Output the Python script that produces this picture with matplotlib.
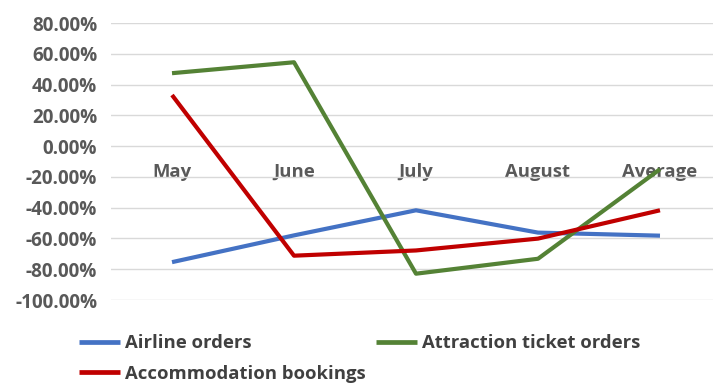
import matplotlib
matplotlib.use("Agg")
import matplotlib.pyplot as plt
from matplotlib.ticker import FuncFormatter, MultipleLocator

categories = ["May", "June", "July", "August", "Average"]
airline_orders = [-75.4, -58.0, -41.7, -56.2, -58.2]
attraction_ticket_orders = [47.4, 54.5, -82.9, -73.2, -15.0]
accommodation_bookings = [33.2, -71.2, -67.8, -60.1, -41.7]

plt.rcParams["font.family"] = ["Open Sans", "DejaVu Sans"]
text_gray = "#595959"

fig = plt.figure(figsize=(7.13, 3.83), dpi=100)
ax = fig.add_axes([0.1557, 0.2167, 0.8555, 0.7232])

x = range(len(categories))
l_air, = ax.plot(x, airline_orders, color="#4472C4", lw=3.0,
                 solid_capstyle="butt", label="Airline orders")
l_att, = ax.plot(x, attraction_ticket_orders, color="#548235", lw=3.0,
                 solid_capstyle="butt", label="Attraction ticket orders")
l_acc, = ax.plot(x, accommodation_bookings, color="#C00000", lw=3.0,
                 solid_capstyle="butt", label="Accommodation bookings")

ax.set_xlim(-0.5, len(categories) - 0.5)
ax.set_ylim(-100, 80)
ax.yaxis.set_major_locator(MultipleLocator(20))
ax.yaxis.set_major_formatter(FuncFormatter(lambda v, p: f"{v:.2f}%"))
ax.grid(axis="y", color="#d9d9d9", lw=1.0)
ax.set_axisbelow("line")

for s in ax.spines.values():
    s.set_visible(False)
ax.spines["bottom"].set_position(("data", 0))

ax.set_xticks(list(x))
ax.set_xticklabels(categories)
ax.tick_params(axis="x", length=0, pad=12, labelsize=13.3, labelcolor=text_gray)
ax.tick_params(axis="y", length=0, pad=10, labelsize=13.6, labelcolor=text_gray)
for lab in ax.get_xticklabels() + ax.get_yticklabels():
    lab.set_fontweight("bold")

leg = fig.legend(handles=[l_air, l_acc, l_att], ncol=2, frameon=False,
                 loc="upper left", bbox_to_anchor=(0.0874, 0.1705),
                 handlelength=2.24, handletextpad=0.27, columnspacing=0.53,
                 labelspacing=0.66,
                 prop={"weight": "bold", "size": 13.3})
for t in leg.get_texts():
    t.set_color("#404040")
for h in leg.legend_handles:
    h.set_linewidth(3.4)

fig.savefig("out.png", dpi=100)
